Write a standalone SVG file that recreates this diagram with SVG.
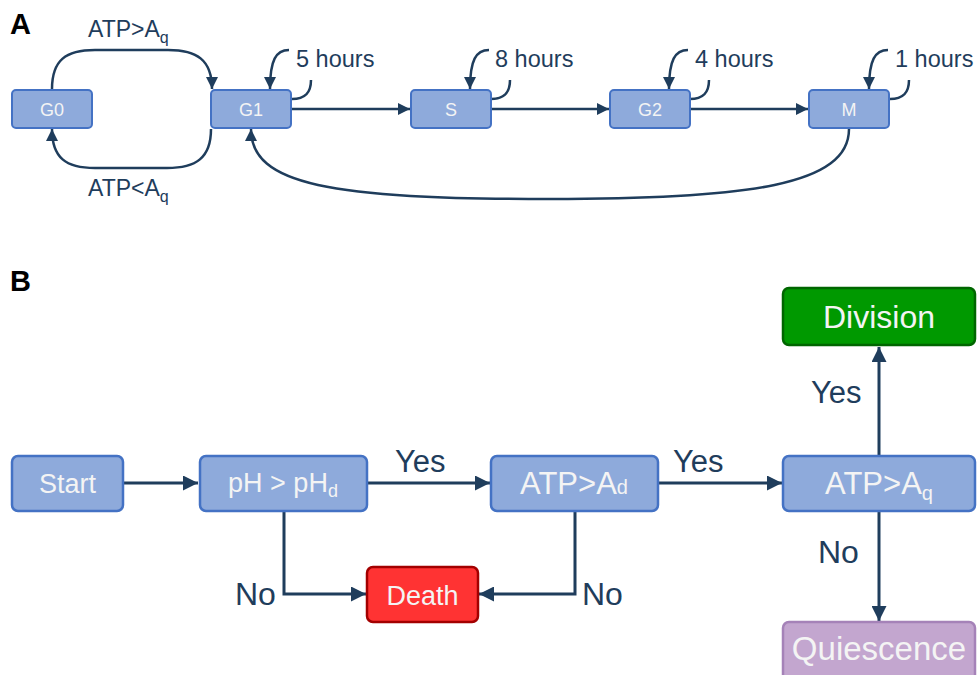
<svg xmlns="http://www.w3.org/2000/svg" width="977" height="675" viewBox="0 0 977 675">
<style>
text{font-family:"Liberation Sans",Arial,sans-serif}
.panel{font-weight:bold;font-size:29px;fill:#000}
.nA rect{fill:#8eaadb;stroke:#4472c4;stroke-width:2}
.nA text{fill:#f4f4f4;font-size:18px;text-anchor:middle}
.nB rect{stroke-width:2.5}
.nB text{fill:#f4f4f4;text-anchor:middle}
.blue rect{fill:#8eaadb;stroke:#4472c4}
.lbl{fill:#1f3d5c}
.conA path{fill:none;stroke:#1f3d5c;stroke-width:2.5}
.conB path{fill:none;stroke:#1f3d5c;stroke-width:3}
</style>
<defs>
<marker id="ah" viewBox="0 0 12 12" markerWidth="12" markerHeight="12" refX="12" refY="6" orient="auto" markerUnits="userSpaceOnUse"><path d="M0,0 L12,6 L0,12 z" fill="#1f3d5c"/></marker>
<marker id="ahB" viewBox="0 0 14 14" markerWidth="15" markerHeight="15" refX="14" refY="7" orient="auto" markerUnits="userSpaceOnUse"><path d="M0,0 L14,7 L0,14 z" fill="#1f3d5c"/></marker>
</defs>
<rect width="977" height="675" fill="#fff"/>
<text class="panel" x="10" y="34">A</text>
<text class="panel" x="10" y="291">B</text>

<g id="connectorsA" class="conA">
<path d="M52,89 C52,60 66,50 95,50 L168,50 C197,50 212,60 212,89" marker-end="url(#ah)"/>
<path d="M211,129 C211,158 196,168 167,168 L95,168 C66,168 52,158 52,129" marker-end="url(#ah)"/>
<path d="M292,109 L410,109" marker-end="url(#ah)"/>
<path d="M491,109 L609,109" marker-end="url(#ah)"/>
<path d="M691,109 L808,109" marker-end="url(#ah)"/>
<path d="M849,129 C849,185 750,199 550,199 C330,199 251,185 251,129" marker-end="url(#ah)"/>
<path d="M289,50 C276,50 270,60 270,89" marker-end="url(#ah)"/>
<path d="M292,99 C305,99 311,93 311,80"/>
<path d="M489,50 C476,50 470,60 470,89" marker-end="url(#ah)"/>
<path d="M491,99 C504,99 510,93 510,80"/>
<path d="M688,50 C675,50 669,60 669,89" marker-end="url(#ah)"/>
<path d="M690,99 C703,99 709,93 709,80"/>
<path d="M888,50 C875,50 869,60 869,89" marker-end="url(#ah)"/>
<path d="M890,99 C903,99 909,93 909,80"/>
</g>

<g id="labelsA" class="lbl" font-size="23">
<text x="88" y="37">ATP&gt;A<tspan font-size="16" dy="6">q</tspan></text>
<text x="88" y="196">ATP&lt;A<tspan font-size="16" dy="6">q</tspan></text>
<text x="296" y="67" font-size="23.5">5 hours</text>
<text x="495" y="67" font-size="23.5">8 hours</text>
<text x="695" y="67" font-size="23.5">4 hours</text>
<text x="895" y="67" font-size="23.5">1 hours</text>
</g>

<g id="G0" class="nA"><rect x="12" y="90" width="80" height="38" rx="4"/><text x="52" y="116">G0</text></g>
<g id="G1" class="nA"><rect x="211" y="90" width="80" height="38" rx="4"/><text x="251" y="116">G1</text></g>
<g id="S" class="nA"><rect x="411" y="90" width="80" height="38" rx="4"/><text x="451" y="116">S</text></g>
<g id="G2" class="nA"><rect x="610" y="90" width="80" height="38" rx="4"/><text x="650" y="116">G2</text></g>
<g id="M" class="nA"><rect x="809" y="90" width="80" height="38" rx="4"/><text x="849" y="116">M</text></g>

<g id="connectorsB" class="conB">
<path d="M124,483 L198,483" marker-end="url(#ahB)"/>
<path d="M368,483 L490,483" marker-end="url(#ahB)"/>
<path d="M659,483 L782,483" marker-end="url(#ahB)"/>
<path d="M879,455 L879,347" marker-end="url(#ahB)"/>
<path d="M879,512 L879,621" marker-end="url(#ahB)"/>
<path d="M284,512 L284,594 L366,594" marker-end="url(#ahB)"/>
<path d="M575,512 L575,594 L479,594" marker-end="url(#ahB)"/>
</g>

<g id="labelsB" class="lbl" font-size="31">
<text x="395" y="472">Yes</text>
<text x="673" y="472">Yes</text>
<text x="811" y="403">Yes</text>
<text x="818" y="563" font-size="32">No</text>
<text x="235" y="605" font-size="32">No</text>
<text x="582" y="605" font-size="32">No</text>
</g>

<g id="start" class="nB blue"><rect x="12" y="456" width="111" height="55" rx="6"/><text x="67.5" y="493" font-size="27">Start</text></g>
<g id="ph" class="nB blue"><rect x="200" y="456" width="167" height="55" rx="6"/><text x="283" y="492" font-size="27">pH &gt; pH<tspan font-size="18" dy="5">d</tspan></text></g>
<g id="atpd" class="nB blue"><rect x="491" y="456" width="167" height="55" rx="6"/><text x="574" y="494" font-size="31">ATP&gt;A<tspan font-size="20">d</tspan></text></g>
<g id="atpq" class="nB blue"><rect x="783" y="456" width="192" height="55" rx="6"/><text x="879" y="494" font-size="31">ATP&gt;A<tspan font-size="20" dy="6">q</tspan></text></g>
<g id="division" class="nB"><rect x="783" y="288" width="192" height="57" rx="6" fill="#009900" stroke="#006600"/><text x="879" y="328" font-size="32">Division</text></g>
<g id="quiescence" class="nB"><rect x="783" y="622" width="192" height="62" rx="6" fill="#c3a6cf" stroke="#a582b8"/><text x="879" y="660" font-size="33">Quiescence</text></g>
<g id="death" class="nB"><rect x="367" y="567" width="111" height="55" rx="6" fill="#ff3333" stroke="#a30000"/><text x="422.5" y="605" font-size="27">Death</text></g>
</svg>
